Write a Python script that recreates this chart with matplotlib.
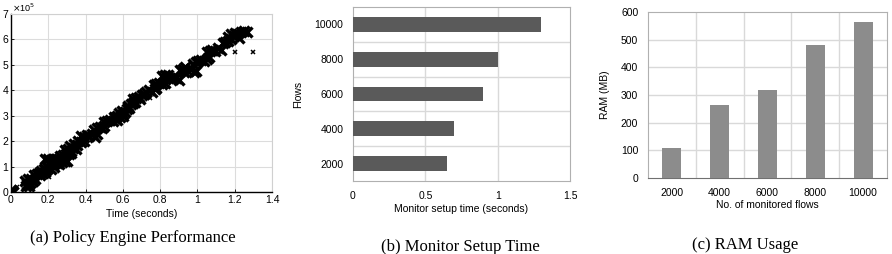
import matplotlib
matplotlib.use("Agg")
import matplotlib.pyplot as plt

# ---------------- data ----------------
# (a) Policy engine performance: time (s) vs. count (x 1e5), dense band
pe_time = [0.0, 0.005, 0.01, 0.0,
           0.075, 0.085, 0.09, 0.1, 0.11, 0.08, 0.095, 0.12, 0.13, 0.105,
           0.125, 0.14, 0.155, 0.165, 0.18, 0.15,
           0.16, 0.175, 0.19, 0.2, 0.215, 0.23,
           0.185, 0.2, 0.215, 0.23, 0.245, 0.26,
           0.23, 0.245, 0.26, 0.275, 0.29, 0.3,
           0.265, 0.28, 0.295, 0.31, 0.32,
           0.29, 0.305, 0.315, 0.33, 0.34, 0.355, 0.36, 0.375, 0.39, 0.32, 0.35,
           0.375, 0.39, 0.405, 0.42, 0.435, 0.45, 0.46,
           0.445, 0.46, 0.475, 0.49, 0.5,
           0.5, 0.515, 0.53, 0.545, 0.56, 0.57,
           0.555, 0.57, 0.585, 0.6,
           0.58, 0.595, 0.61, 0.62, 0.635, 0.6, 0.625,
           0.63, 0.645, 0.655, 0.665,
           0.655, 0.67, 0.685, 0.7, 0.715, 0.69,
           0.725, 0.74, 0.755, 0.77, 0.78,
           0.765, 0.78, 0.795, 0.81, 0.825,
           0.81, 0.825, 0.84, 0.855, 0.87, 0.885, 0.9,
           0.905, 0.92, 0.935, 0.95, 0.965, 0.98, 0.995, 0.93,
           0.975, 0.99, 1.005, 1.02, 1.035, 1.05, 1.06,
           1.05, 1.065, 1.08, 1.095, 1.11, 1.125,
           1.135, 1.15, 1.165, 1.18,
           1.165, 1.18, 1.195, 1.21, 1.225, 1.2,
           1.235, 1.25, 1.265]
pe_count = [0.0, 0.05, 0.0, 0.08,
            0.45, 0.3, 0.5, 0.35, 0.45, 0.22, 0.22, 0.45, 0.5, 0.5,
            0.65, 0.7, 0.65, 0.75, 0.8, 0.75,
            0.82, 0.9, 0.85, 0.95, 0.9, 1.0,
            1.28, 1.3, 1.27, 1.3, 1.28, 1.3,
            1.1, 1.15, 1.12, 1.18, 1.2, 1.22,
            1.42, 1.45, 1.5, 1.48, 1.55,
            1.65, 1.7, 1.8, 1.75, 1.9, 1.85, 2.0, 1.95, 2.0, 1.6, 1.7,
            2.2, 2.15, 2.25, 2.2, 2.3, 2.18, 2.28,
            2.45, 2.5, 2.55, 2.5, 2.6,
            2.75, 2.8, 2.85, 2.8, 2.9, 2.85,
            2.95, 3.0, 2.95, 3.0,
            3.1, 3.2, 3.15, 3.25, 3.3, 3.05, 3.35,
            3.4, 3.45, 3.5, 3.55,
            3.65, 3.7, 3.75, 3.8, 3.85, 3.65,
            3.92, 4.0, 3.95, 4.05, 4.1,
            4.2, 4.25, 4.3, 4.25, 4.3,
            4.55, 4.6, 4.6, 4.5, 4.45, 4.5, 4.4,
            4.8, 4.85, 4.9, 4.75, 4.85, 4.7, 4.75, 4.7,
            5.05, 5.1, 5.15, 5.2, 5.15, 5.25, 5.3,
            5.5, 5.55, 5.6, 5.55, 5.65, 5.6,
            5.85, 5.9, 5.95, 6.0,
            6.1, 6.2, 6.15, 6.2, 6.05, 6.25,
            6.3, 6.32, 6.3]
# isolated outlier points
out_time = [0.03, 0.205, 0.745, 1.2, 1.3]
out_count = [0.2, 0.6, 3.7, 5.5, 5.5]

# (b) Monitor setup time
flows = ["2000", "4000", "6000", "8000", "10000"]
setup_time = [0.65, 0.70, 0.90, 1.00, 1.30]

# (c) RAM usage
ram_flows = ["2000", "4000", "6000", "8000", "10000"]
ram_mb = [110, 265, 318, 480, 565]

# ---------------- layout ----------------
W, H = 892, 254
fig = plt.figure(figsize=(W / 100, H / 100), dpi=100)
sans = ["Liberation Sans", "DejaVu Sans"]
serif = ["Liberation Serif", "DejaVu Serif"]
plt.rcParams["font.family"] = sans


def box(l, r, t, b):
    return [l / W, (H - b) / H, (r - l) / W, (b - t) / H]


tick_fs = 7.5

# ---- (a) ----
ax = fig.add_axes(box(11, 272, 14, 192))
ax.plot(pe_time, pe_count, linestyle="none", marker="x", color="black",
        markersize=6.5, markeredgewidth=2.4)
ax.plot(out_time, out_count, linestyle="none", marker="x", color="black",
        markersize=3.2, markeredgewidth=1.1)
ax.set_xlim(0, 1.4)
ax.set_ylim(0, 7)
ax.set_xticks([0, 0.2, 0.4, 0.6, 0.8, 1, 1.2, 1.4])
ax.set_xticklabels(["0", "0.2", "0.4", "0.6", "0.8", "1", "1.2", "1.4"])
ax.set_yticks(range(0, 8))
ax.grid(True, color="#dcdcdc", linewidth=0.8)
ax.set_axisbelow(True)
ax.tick_params(direction="in", length=2.5, labelsize=tick_fs, pad=2, width=0.6)
for s in ["top", "right"]:
    ax.spines[s].set_color("#d0d0d0")
for s in ["left", "bottom"]:
    ax.spines[s].set_color("black")
    ax.spines[s].set_linewidth(1.0)
ax.set_xlabel("Time (seconds)", fontsize=tick_fs, labelpad=3)
ax.text(0.005, 1.0, r"$\times$10$^{5}$", transform=ax.transAxes,
        fontsize=6.5, ha="left", va="bottom")

# ---- (b) ----
bx = fig.add_axes(box(353, 570, 7, 181))
ypos = list(range(len(flows)))
bx.barh(ypos, setup_time, height=0.43, color="#5a5a5a", zorder=3)
bx.set_xlim(0, 1.5)
bx.set_ylim(-0.5, len(flows) - 0.5)
bx.set_yticks(ypos)
bx.set_yticklabels(flows)
bx.set_xticks([0, 0.5, 1, 1.5])
bx.set_xticklabels(["0", "0.5", "1", "1.5"])
for v in [0.5, 1.0]:
    bx.axvline(v, color="#d9d9d9", linewidth=1.0, zorder=1)
for k in range(len(flows) - 1):
    bx.axhline(k + 0.5, color="#d9d9d9", linewidth=1.0, zorder=1)
for s in bx.spines.values():
    s.set_color("#b0b0b0")
    s.set_linewidth(0.8)
bx.tick_params(length=0, labelsize=tick_fs, pad=7)
bx.set_xlabel("Monitor setup time (seconds)", fontsize=tick_fs, labelpad=2)
bx.set_ylabel("Flows", fontsize=tick_fs, labelpad=8)

# ---- (c) ----
cx = fig.add_axes(box(648, 887, 12, 178))
xpos = list(range(len(ram_flows)))
cx.bar(xpos, ram_mb, width=0.4, color="#8c8c8c", zorder=3)
cx.set_xlim(-0.5, len(ram_flows) - 0.5)
cx.set_ylim(0, 600)
cx.set_xticks(xpos)
cx.set_xticklabels(ram_flows)
cx.set_yticks(range(0, 601, 100))
for v in range(100, 600, 100):
    cx.axhline(v, color="#d9d9d9", linewidth=1.0, zorder=1)
for k in range(len(ram_flows) - 1):
    cx.axvline(k + 0.5, color="#d9d9d9", linewidth=1.0, zorder=1)
for s in cx.spines.values():
    s.set_color("#b0b0b0")
    s.set_linewidth(0.8)
cx.spines["bottom"].set_color("#707070")
cx.tick_params(length=0, labelsize=tick_fs, pad=7)
cx.set_xlabel("No. of monitored flows", fontsize=tick_fs, labelpad=2)
cx.set_ylabel("RAM (MB)", fontsize=tick_fs, labelpad=8)

# ---- captions ----
cap_fs = 12
fig.text(133 / W, 1 - 238 / H, "(a) Policy Engine Performance", family=serif,
         fontsize=cap_fs, ha="center", va="center")
fig.text(460 / W, 1 - 247 / H, "(b) Monitor Setup Time", family=serif,
         fontsize=cap_fs, ha="center", va="center")
fig.text(745 / W, 1 - 245 / H, "(c) RAM Usage", family=serif,
         fontsize=cap_fs, ha="center", va="center")

fig.savefig("out.png", dpi=100)
